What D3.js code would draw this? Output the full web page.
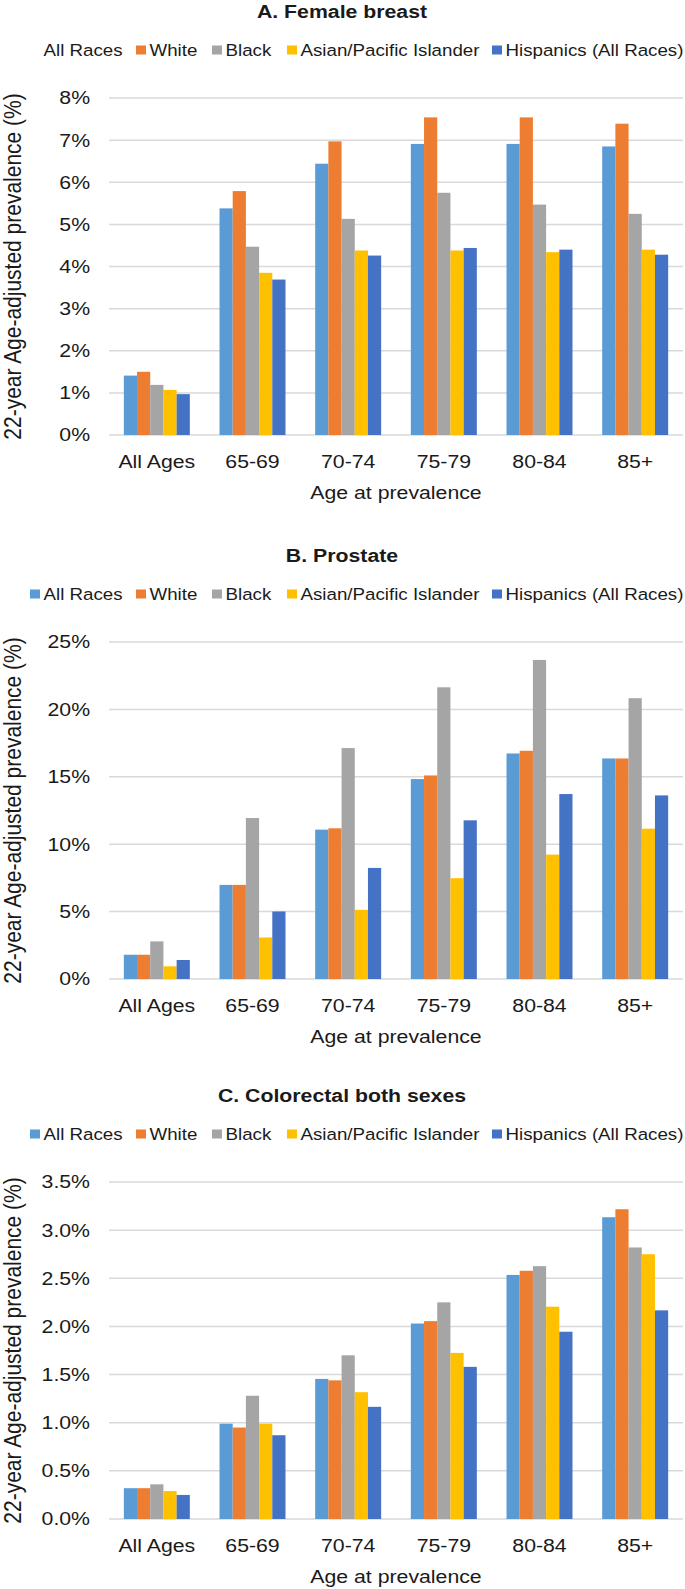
<!DOCTYPE html>
<html>
<head>
<meta charset="utf-8">
<script src="https://cdn.jsdelivr.net/npm/d3@7"></script>
<style>
html,body{margin:0;padding:0;background:#fff;}
svg{display:block;}
text{font-family:"Liberation Sans",Arial,Helvetica,sans-serif;fill:#1a1a1a;}
</style>
</head>
<body>
<script>
// ---------- data ----------
const categories = ["All Ages","65-69","70-74","75-79","80-84","85+"];
const seriesNames = ["All Races","White","Black","Asian/Pacific Islander","Hispanics (All Races)"];
const seriesColors = ["#5B9BD5","#ED7D31","#A5A5A5","#FFC000","#4472C4"];

// rows = categories, columns = series (All Races, White, Black, API, Hispanics), in %
const breastValues = [
  [1.41,1.50,1.19,1.07,0.97],
  [5.38,5.79,4.47,3.85,3.69],
  [6.44,6.97,5.13,4.38,4.26],
  [6.91,7.54,5.75,4.38,4.44],
  [6.91,7.54,5.47,4.34,4.40],
  [6.85,7.39,5.25,4.40,4.28]
];
const prostateValues = [
  [1.80,1.80,2.79,0.94,1.41],
  [6.98,6.98,11.94,3.08,5.01],
  [11.08,11.18,17.13,5.13,8.24],
  [14.83,15.10,21.64,7.48,11.77],
  [16.73,16.93,23.67,9.23,13.72],
  [16.36,16.36,20.83,11.15,13.62]
];
const colorectalValues = [
  [0.32,0.32,0.36,0.29,0.25],
  [0.99,0.95,1.28,0.99,0.87],
  [1.455,1.44,1.70,1.317,1.165],
  [2.03,2.055,2.25,1.725,1.58],
  [2.535,2.578,2.626,2.205,1.945],
  [3.134,3.217,2.82,2.75,2.167]
];
const breastTicks = [0,1,2,3,4,5,6,7,8];
const prostateTicks = [0,5,10,15,20,25];
const colorectalTicks = [0,0.5,1,1.5,2,2.5,3,3.5];

const panelTitles = ["A. Female breast","B. Prostate","C. Colorectal both sexes"];
const yAxisTitle = "22-year Age-adjusted prevalence (%)";
const xAxisTitle = "Age at prevalence";

// ---------- layout ----------
const W = 685, H = 1589;
const S = 1.15; // horizontal stretch of glyphs in the reference
const plotLeft = 109, plotRight = 683, plotH = 337;
const panelTops = [98, 642, 1182];
const legendX = [30,136,212,287,492];

const svg = d3.select("body").append("svg").attr("width",W).attr("height",H);

function sText(g, x, y, str, opts) {
  const t = g.append("text")
    .attr("transform", `translate(${x},${y}) scale(${S},1)` + (opts.rotate ? ` rotate(${opts.rotate})` : ""))
    .attr("text-anchor", opts.anchor || "start")
    .attr("dy", opts.dy || "0.35em")
    .style("font-size", opts.size + "px")
    .text(str);
  if (opts.bold) t.style("font-weight", "bold");
  return t;
}

const panels = [
  {values: breastValues, ticks: breastTicks, fmt: d => d3.format(".0f")(d) + "%", showFirstSwatch: false},
  {values: prostateValues, ticks: prostateTicks, fmt: d => d3.format(".0f")(d) + "%", showFirstSwatch: true},
  {values: colorectalValues, ticks: colorectalTicks, fmt: d => d3.format(".1f")(d) + "%", showFirstSwatch: true}
];

panels.forEach((p, pi) => {
  const top = panelTops[pi], bottom = top + plotH;
  const g = svg.append("g");

  const x0 = d3.scaleBand().domain(categories).range([plotLeft, plotRight]).padding(0);
  const x1 = d3.scaleBand().domain(seriesNames).range([0, x0.bandwidth()]).paddingInner(0).paddingOuter(1.125);
  const y = d3.scaleLinear().domain([0, d3.max(p.ticks)]).range([bottom, top]);

  // gridlines
  g.append("g").selectAll("line").data(p.ticks).join("line")
    .attr("x1", plotLeft).attr("x2", plotRight)
    .attr("y1", d => y(d)).attr("y2", d => y(d))
    .attr("stroke", "#d9d9d9").attr("stroke-width", 1.5);

  // bars
  const groups = g.append("g").selectAll("g").data(categories).join("g")
    .attr("transform", d => `translate(${x0(d)},0)`);
  groups.selectAll("rect")
    .data((c, ci) => seriesNames.map((s, si) => ({s, si, v: p.values[ci][si]})))
    .join("rect")
    .attr("x", d => x1(d.s))
    .attr("width", x1.bandwidth())
    .attr("y", d => y(d.v))
    .attr("height", d => y(0) - y(d.v))
    .attr("fill", d => seriesColors[d.si]);

  // y axis
  const yAxis = d3.axisLeft(y).tickValues(p.ticks).tickFormat(p.fmt).tickSize(0).tickPadding(16.5);
  const ya = g.append("g").attr("transform", `translate(${plotLeft},0)`).call(yAxis);
  ya.select(".domain").remove();
  ya.selectAll("text")
    .attr("transform", `scale(${S},1)`)
    .style("font-size", "18.5px")
    .style("font-family", '"Liberation Sans",Arial,sans-serif')
    .attr("fill", "#1a1a1a");

  // x axis
  const xAxis = d3.axisBottom(x0).tickSize(0).tickPadding(19.5);
  const xa = g.append("g").attr("transform", `translate(0,${bottom})`).call(xAxis);
  xa.select(".domain").remove();
  xa.selectAll("text")
    .attr("transform", `scale(${S},1)`)
    .style("font-size", "18.5px")
    .style("font-family", '"Liberation Sans",Arial,sans-serif')
    .attr("fill", "#1a1a1a");

  // titles
  sText(g, 342, top - 86, panelTitles[pi], {anchor: "middle", size: 18.5, bold: true});
  sText(g, 396, bottom + 58, xAxisTitle, {anchor: "middle", size: 18.5});
  sText(g, 13, (top + bottom) / 2, yAxisTitle, {anchor: "middle", size: 21, rotate: -90});

  // legend
  const ly = top - 48;
  seriesNames.forEach((s, si) => {
    if (si > 0 || p.showFirstSwatch) {
      g.append("rect").attr("x", legendX[si]).attr("y", ly - 4.5)
        .attr("width", 10).attr("height", 9).attr("fill", seriesColors[si]);
    }
    sText(g, legendX[si] + 13.5, ly, s, {size: 16.3});
  });
});
</script>
</body>
</html>
